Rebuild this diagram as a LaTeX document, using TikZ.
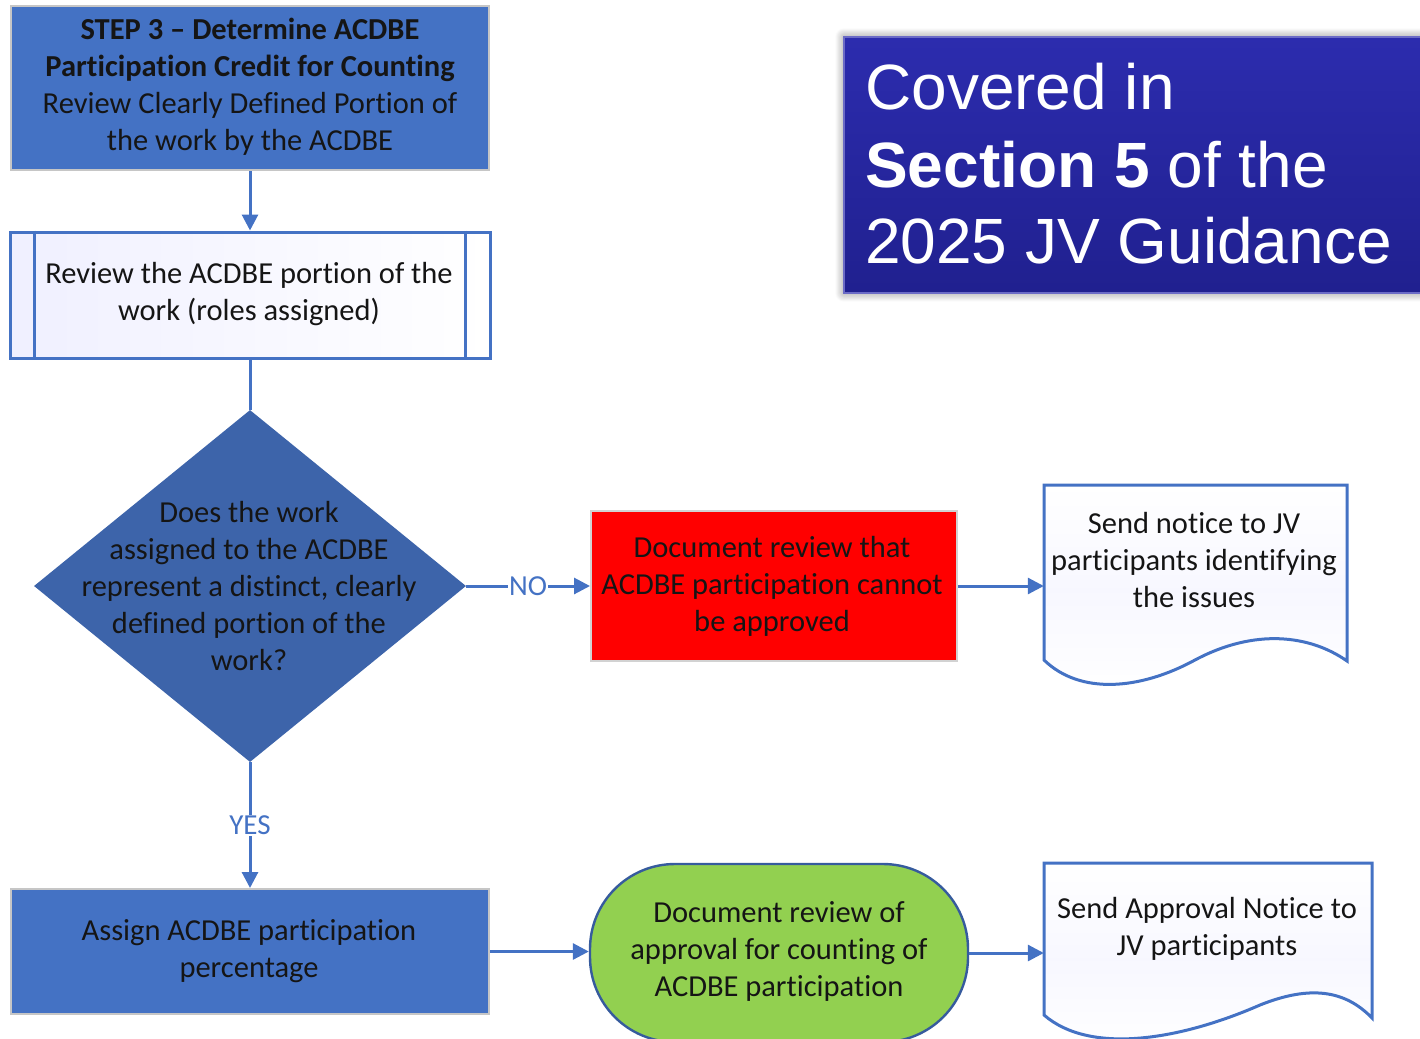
\documentclass[tikz,border=0pt]{standalone}
\usepackage{fontspec}
\setmainfont{Carlito}[RawFeature={-liga;-dlig}]
\newfontfamily\arialf{Liberation Sans}
\usetikzlibrary{shapes.geometric,arrows.meta,shadows.blur}
\definecolor{boxblue}{HTML}{4472C4}
\definecolor{diablue}{HTML}{3D64AA}
\definecolor{linkblue}{HTML}{4472C4}
\definecolor{calltop}{HTML}{2C2CAE}
\definecolor{callbot}{HTML}{20208F}
\definecolor{greenfill}{HTML}{92D050}
\definecolor{txt}{HTML}{151515}
\tikzset{
  ftext/.style={font=\fontsize{30.5}{37}\selectfont, text=txt, align=center, inner sep=0pt},
  bluebox/.style={draw=gray!45, line width=2pt, fill=boxblue, inner sep=0pt},
  link/.style={draw=linkblue, line width=3pt, -{Triangle[length=16pt,width=16pt]}},
  plainlink/.style={draw=linkblue, line width=3pt},
  lbl/.style={font=\fontsize{29}{32}\selectfont, text=linkblue, fill=white, inner sep=1pt},
  docshape/.style={draw=linkblue, line width=3pt, top color=white, bottom color=white, middle color=blue!3},
  calltext/.style={font=\arialf\fontsize{64}{77}\selectfont, text=white, anchor=base west, inner sep=0pt}
}
\begin{document}
\begin{tikzpicture}[x=1pt,y=-1pt]
\useasboundingbox (0,0) rectangle (1420,1038);
\clip (0,0) rectangle (1420,1038);
% callout
\node[blur shadow={shadow blur steps=12, shadow xshift=0pt, shadow yshift=0pt, shadow blur radius=9pt, shadow opacity=50},
  draw=calltop!70!white, line width=2pt, top color=calltop, bottom color=callbot,
  minimum width=590pt, minimum height=256pt, inner sep=0pt, anchor=north west] (callout) at (843,36) {};
\node[calltext] (cl1) at (865,110) {Covered in};
\node[calltext] (cl2) at (865,187) {\textbf{Section 5} of the};
\node[calltext] (cl3) at (865,263) {2025 JV Guidance};
% step 3
\node[bluebox, minimum width=478pt, minimum height=164pt] (step) at (250,88) {};
\node[ftext] (steptxt) at (250,87) {\textbf{STEP 3 -- Determine ACDBE}\\ \textbf{Participation Credit for Counting}\\ Review Clearly Defined Portion of\\ the work by the ACDBE};
% predefined process
\node[draw=linkblue, line width=3pt, left color=blue!6, right color=white, minimum width=480pt, minimum height=126pt, inner sep=0pt] (review) at (250,295) {};
\draw[linkblue, line width=3pt] ([xshift=26pt]review.north west) -- ([xshift=26pt]review.south west);
\draw[linkblue, line width=3pt] ([xshift=-26pt]review.north east) -- ([xshift=-26pt]review.south east);
\node[ftext] (reviewtxt) at (249,294) {Review the ACDBE portion of the\\ work (roles assigned)};
% diamond
\node[diamond, fill=diablue, minimum width=432pt, minimum height=352pt, inner sep=0pt] (dia) at (250,586) {};
\node[ftext] (diatxt) at (249,586) {Does the work\\ assigned to the ACDBE\\ represent a distinct, clearly\\ defined portion of the\\ work?};
% red box
\node[draw=gray!35, line width=2pt, fill=red, minimum width=366pt, minimum height=150pt, inner sep=0pt] (red) at (774,586) {};
\node[ftext] (redtxt) at (772,586) {Document review that\\ ACDBE participation cannot\\ be approved};
% doc 1
\node[minimum width=303pt, minimum height=190pt, inner sep=0pt] (doca) at (1195.5,580) {};
\path[docshape] (1044,485) -- (1347,485) -- (1347,661)
  .. controls (1310,635) and (1255,628) .. (1195,660)
  .. controls (1140,690) and (1080,695) .. (1044,660) -- cycle;
\node[ftext] (docatxt) at (1194,560) {Send notice to JV\\ participants identifying\\ the issues};
% assign
\node[bluebox, minimum width=478pt, minimum height=125pt] (assign) at (250,951.5) {};
\node[ftext] (assigntxt) at (249,951) {Assign ACDBE participation\\ percentage};
% green terminal
\node[draw=linkblue!80!black, line width=2.4pt, fill=greenfill, rounded corners=85pt, minimum width=378pt, minimum height=178pt, inner sep=0pt] (green) at (779,953) {};
\node[ftext] (greentxt) at (779,951) {Document review of\\ approval for counting of\\ ACDBE participation};
% doc 2
\node[minimum width=328pt, minimum height=176pt, inner sep=0pt] (docb) at (1208,951) {};
\path[docshape] (1044,863) -- (1372,863) -- (1372,1018)
  .. controls (1345,990) and (1310,985) .. (1260,1005)
  .. controls (1180,1040) and (1090,1055) .. (1044,1015) -- cycle;
\node[ftext] (docbtxt) at (1207,929) {Send Approval Notice to\\ JV participants};
% connectors
\draw[link] (step.south) -- (review.north);
\draw[plainlink] (review.south) -- (dia.north);
\draw[link] (dia.east) -- node[lbl] (nolbl) {NO} (red.west);
\draw[link] (red.east) -- (red.east -| doca.west);
\draw[link] (dia.south) -- node[lbl] (yeslbl) {YES} (assign.north);
\draw[link] (assign.east) -- (assign.east -| green.west);
\draw[link] (green.east) -- (green.east -| docb.west);
\end{tikzpicture}
\end{document}
